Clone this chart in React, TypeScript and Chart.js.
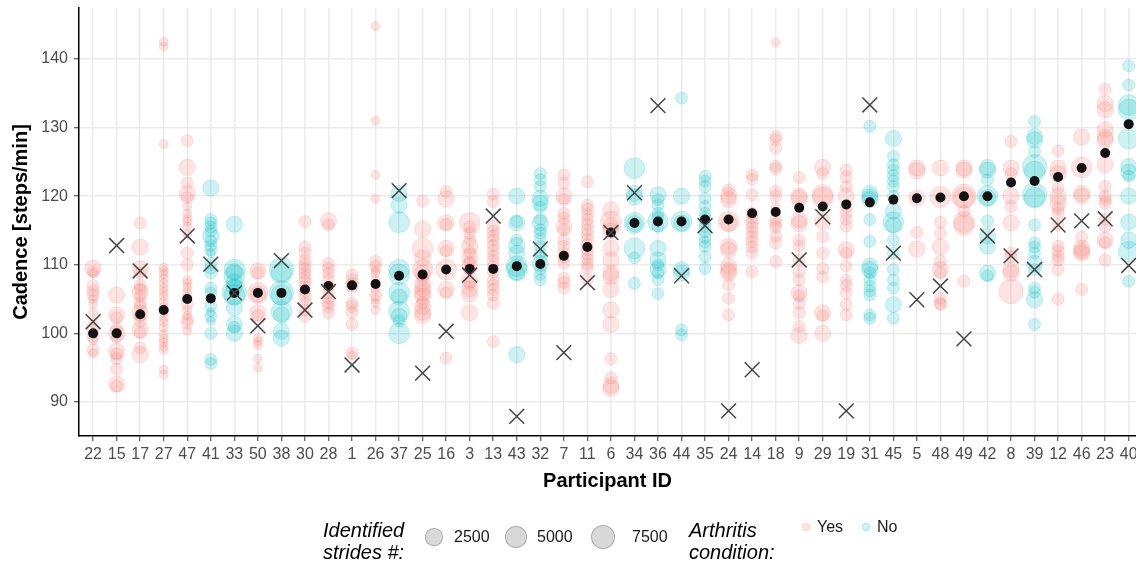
import React, { useEffect, useRef } from "react";
import { Chart, registerables } from "chart.js";

Chart.register(...registerables);

const FONT = "'Liberation Sans', Arial, Helvetica, sans-serif";

// Participants in display order (sorted by mean cadence)
const participants = [
  "22", "15", "17", "27", "47", "41", "33", "50", "38", "30", "28", "1", "26", "37", "25",
  "16", "3", "13", "43", "32", "7", "11", "6", "34", "36", "44", "35", "24", "14", "18",
  "9", "29", "19", "31", "45", "5", "48", "49", "42", "8", "39", "12", "46", "23", "40",
];

const arthritis = [
  "Yes", "Yes", "Yes", "Yes", "Yes", "No", "No", "Yes", "No", "Yes", "Yes", "Yes", "Yes", "No", "Yes",
  "Yes", "Yes", "Yes", "No", "No", "Yes", "Yes", "Yes", "No", "No", "No", "No", "Yes", "Yes", "Yes",
  "Yes", "Yes", "Yes", "No", "No", "Yes", "Yes", "Yes", "No", "Yes", "No", "Yes", "Yes", "Yes", "No",
];

// Mean cadence per participant (steps/min)
const meanCadence = [
  100, 100, 102.8, 103.4, 105, 105.1, 105.9, 105.9, 105.9, 106.4, 106.9, 107, 107.2, 108.4, 108.6,
  109.3, 109.4, 109.4, 109.8, 110.1, 111.3, 112.6, 114.7, 116.1, 116.3, 116.3, 116.6, 116.6, 117.5, 117.7,
  118.3, 118.5, 118.8, 119.1, 119.5, 119.7, 119.8, 120, 120, 122, 122.2, 122.8, 124.1, 126.3, 130.5,
];

// Reference cadence per participant (null where not available)
const referenceCadence: (number | null)[] = [
  101.7, 112.8, 109.1, null, 114.2, 110.1, 105.9, 101.1, 110.6, 103.4, 106.1, 95.4, null, 120.8, 94.2,
  100.3, 108.5, 117.1, 87.9, 112.3, 97.2, 107.4, 114.7, 120.5, 133.2, 108.4, 115.7, 88.7, 94.7, null,
  110.7, 117, 88.7, 133.3, 111.7, 104.9, 106.9, 99.2, 114.2, 111.3, 109.3, 115.8, 116.4, 116.7, 109.9,
];

// Per-session [cadence, identified strides] for each participant
const sessions: [number, number][][] = [
  [[109.5, 2000], [109, 600], [108.8, 100], [107, 600], [106.2, 600], [105.6, 600], [105, 100], [104.3, 100], [103, 100], [101.5, 100], [100.5, 600], [99.5, 600], [99, 100], [97.6, 600], [97.1, 100]],
  [[105.6, 2000], [102.7, 2000], [102.3, 600], [100.6, 600], [100, 2000], [99.5, 600], [97.4, 2000], [97, 600], [96.3, 600], [94.8, 600], [92.6, 2000], [92.3, 600]],
  [[116.1, 600], [112.6, 2000], [109.4, 2000], [108.8, 600], [107, 600], [106.5, 600], [106, 2000], [105.4, 600], [104.4, 600], [103.9, 600], [103, 2000], [102.6, 600], [101.8, 600], [100.5, 2000], [100.1, 600], [97.9, 600], [96.9, 2000]],
  [[142.5, 100], [141.8, 100], [127.6, 100], [109.6, 100], [109.1, 100], [108.6, 100], [108, 100], [107.3, 100], [106.6, 100], [106, 100], [105.4, 100], [104.6, 100], [103.9, 100], [103, 100], [102.2, 100], [101.6, 100], [100.8, 100], [99.9, 100], [99.2, 100], [98.7, 100], [98.1, 100], [97.6, 100], [94.7, 100], [94, 100]],
  [[128.1, 600], [124.2, 2000], [121.9, 600], [120.4, 2000], [119.8, 600], [118.5, 100], [117.5, 100], [116.8, 100], [116.3, 100], [115.6, 100], [114.4, 100], [111.7, 600], [110, 600], [107.8, 100], [107.3, 100], [106.7, 100], [106, 100], [105.3, 100], [104.3, 600], [103.4, 100], [102.6, 100], [102, 600], [101.5, 600], [100.4, 100]],
  [[121.2, 2000], [116.6, 600], [116.1, 600], [115.5, 600], [114.9, 600], [114.2, 2000], [113.5, 600], [112.8, 600], [112.2, 600], [111.7, 100], [110.2, 600], [109.5, 600], [108.8, 600], [106.6, 600], [105.9, 600], [104, 600], [103.1, 100], [102.5, 600], [101.8, 100], [100, 600], [96.2, 600], [95.6, 600]],
  [[115.9, 2000], [109.3, 4500], [109, 2000], [108.4, 4500], [107.5, 2000], [106.8, 2000], [106, 7000], [105.6, 4500], [103.7, 2000], [101.3, 2000], [100.9, 600], [100, 2000]],
  [[109.1, 2000], [108.8, 600], [105.9, 4500], [105.7, 2000], [103, 2000], [102.6, 600], [99.3, 100], [98.8, 100], [98.3, 100], [96.3, 100], [95, 100]],
  [[109.3, 7000], [108.8, 4500], [105.9, 7000], [105.6, 4500], [103.2, 4500], [102.7, 2000], [100.3, 2000], [99.3, 2000]],
  [[116.3, 600], [112.6, 600], [111.7, 600], [110.7, 600], [110, 600], [109.4, 600], [108.8, 600], [108.2, 600], [107.6, 600], [106.8, 600], [106.1, 600], [105.4, 600], [104.4, 600], [103.4, 600], [102.5, 600]],
  [[116.4, 2000], [115.8, 600], [110.2, 600], [109.5, 600], [108.8, 600], [107.8, 600], [106.8, 600], [105.9, 600], [105.1, 600], [104.4, 600], [103.9, 600], [103, 600]],
  [[108.5, 600], [107.8, 600], [107.2, 600], [106.8, 600], [104.4, 600], [103.9, 600], [103, 600], [101.3, 600], [97.1, 600], [96.8, 100]],
  [[144.8, 100], [131, 100], [123.1, 100], [119.6, 100], [110.5, 600], [109.8, 600], [109.2, 100], [108.8, 100], [107.8, 100], [107.2, 100], [106.4, 100], [105.6, 600], [105, 100], [104.4, 100], [103.4, 100]],
  [[120.4, 2000], [118.7, 2000], [116.2, 4500], [109.3, 4500], [108.6, 4500], [105.9, 4500], [105.3, 2000], [103.2, 4500], [102.5, 2000], [101.8, 600], [100, 4500]],
  [[119.3, 600], [115.2, 2000], [112.4, 4500], [111, 2000], [109.3, 4500], [108.8, 2000], [108, 600], [107.2, 2000], [106.5, 2000], [105.9, 2000], [105.4, 2000], [104.5, 600], [103.9, 2000], [103.1, 2000], [102.6, 2000]],
  [[120.7, 600], [119.6, 2000], [116.1, 2000], [115.9, 600], [112.4, 2000], [112, 600], [109.3, 4500], [106.4, 2000], [105.9, 600], [96.4, 600]],
  [[116.1, 4500], [115.5, 600], [114.6, 600], [113.6, 600], [112.7, 2000], [111.8, 600], [111.2, 2000], [110.4, 600], [109.8, 2000], [109.3, 600], [107.8, 2000], [107.2, 600], [106.5, 2000], [105.7, 2000], [103, 2000]],
  [[120.3, 600], [119.2, 600], [115.6, 600], [114.9, 600], [114.2, 600], [113.6, 600], [112.8, 600], [112.1, 600], [111.3, 600], [110.6, 600], [109.7, 600], [109, 600], [107.8, 600], [107.1, 600], [106.4, 600], [105.6, 600], [104.4, 600], [98.8, 600]],
  [[120, 2000], [116.1, 2000], [116.3, 600], [113.6, 600], [112.8, 2000], [111.7, 2000], [109.8, 4500], [109.3, 4500], [108.8, 2000], [96.9, 2000]],
  [[123.3, 600], [122.4, 600], [121.4, 600], [119.7, 2000], [119, 2000], [118.4, 600], [116.6, 600], [116.1, 2000], [115.1, 600], [114.6, 600], [113.8, 600], [112.7, 600], [111.7, 600], [111, 600], [110.2, 2000], [109.4, 600], [108.6, 600], [107.8, 600]],
  [[123.1, 600], [121.9, 600], [120, 2000], [119.5, 600], [117.5, 600], [116.8, 600], [115.6, 2000], [115.1, 600], [113.6, 600], [112.7, 600], [111.7, 600], [111, 600], [110.2, 600], [108, 600], [107.4, 600], [106.6, 600]],
  [[122.1, 600], [118.7, 600], [118.1, 600], [117.3, 600], [116.6, 600], [115.9, 600], [115.1, 600], [114.4, 600], [113.7, 600], [112.9, 600], [112.2, 600], [111.5, 600], [110.8, 600], [110.1, 600], [109.5, 600], [107.8, 600]],
  [[118, 2000], [116.3, 4500], [115.6, 2000], [114.9, 2000], [112.4, 2000], [110.7, 2000], [108.8, 2000], [108.3, 2000], [106.4, 2000], [103.4, 2000], [101.3, 2000], [96.3, 600], [93.5, 600], [92.4, 2000], [92, 2000]],
  [[124.1, 4500], [120.4, 2000], [119.9, 2000], [116.1, 4500], [116, 2000], [112.4, 4500], [111, 600], [107.3, 600]],
  [[120.2, 2000], [119.5, 600], [118.7, 600], [117.5, 600], [116.8, 600], [116.3, 4500], [115.6, 600], [112.4, 2000], [110.7, 2000], [110, 600], [109.3, 2000], [108.8, 600], [107.8, 600], [105.8, 600]],
  [[134.3, 600], [120, 2000], [116.3, 4500], [116.1, 2000], [109.3, 2000], [108.8, 2000], [100.5, 600], [99.8, 600]],
  [[122.9, 600], [122.2, 600], [121.4, 600], [119.7, 600], [118.5, 600], [117.5, 600], [116.9, 600], [116.2, 600], [115.6, 600], [114.8, 600], [114, 600], [113.3, 600], [112.7, 600], [111.2, 600], [109.5, 600]],
  [[120.9, 600], [120.1, 2000], [119.5, 2000], [116.3, 4500], [116.1, 2000], [112.7, 2000], [112.2, 2000], [109.8, 2000], [109.2, 2000], [108.8, 2000], [107.1, 600], [105.1, 600], [102.7, 600]],
  [[123.1, 600], [122.5, 600], [120.2, 600], [117.5, 600], [116.8, 600], [116.2, 600], [115.5, 600], [114.8, 600], [114.1, 600], [113.4, 600], [112.6, 600], [111.7, 600], [109, 600]],
  [[142.4, 100], [128.7, 600], [128.2, 600], [127, 600], [124.4, 600], [124, 600], [120.7, 600], [120, 600], [118.4, 100], [116.6, 600], [116, 600], [115.5, 600], [114.2, 600], [113.2, 600], [110.5, 600]],
  [[122.7, 600], [120, 2000], [119.7, 2000], [116.5, 2000], [116, 2000], [113.6, 600], [112.7, 600], [110.7, 600], [109, 600], [107.8, 600], [105.9, 2000], [105.5, 600], [104.4, 600], [103, 600], [101, 600], [99.7, 2000]],
  [[124.2, 2000], [123.3, 600], [120.2, 4500], [119.8, 4500], [116.3, 2000], [114.1, 600], [111.7, 600], [109.5, 600], [108.2, 600], [103, 2000], [102.6, 600], [100, 2000]],
  [[123.8, 600], [122.8, 600], [121.4, 600], [120, 2000], [118.5, 600], [117.5, 600], [116.6, 600], [115.6, 600], [112.2, 2000], [111.7, 600], [109.8, 600], [107.8, 600], [107, 600], [105.9, 600], [104.2, 600], [102.7, 600]],
  [[130.2, 600], [120.4, 2000], [119.9, 2000], [119.5, 2000], [116.6, 600], [113.4, 600], [109.8, 2000], [109.3, 2000], [108.8, 600], [107.8, 600], [106.9, 600], [106.2, 600], [105.6, 600], [102.7, 600], [102.2, 600]],
  [[128.4, 2000], [125.8, 600], [124.6, 600], [123.8, 600], [123, 600], [122.2, 600], [121.4, 600], [120, 600], [117.8, 2000], [116.2, 4500], [115.8, 2000], [113.6, 600], [111.7, 600], [109.3, 600], [107.8, 600], [106.6, 600], [104.2, 2000], [102.2, 600]],
  [[124.1, 2000], [123.7, 2000], [119.7, 2000], [114.7, 600], [112.3, 2000]],
  [[124.1, 2000], [119.9, 4500], [116.2, 600], [114.6, 600], [112.6, 2000], [110.5, 600], [109.3, 2000], [108.8, 600], [105.1, 600], [104.4, 600], [104.2, 600]],
  [[124.1, 2000], [123.8, 2000], [120, 7000], [119.8, 4500], [117.8, 600], [116.2, 4500], [115.8, 4500], [107.6, 600]],
  [[124.2, 2000], [123.8, 2000], [122.4, 600], [120, 4500], [119.8, 2000], [116.4, 600], [114.2, 2000], [112.7, 2000], [108.8, 2000], [108.4, 600]],
  [[128, 600], [124.1, 2000], [123.3, 600], [120, 2000], [118.5, 600], [116.1, 2000], [111.7, 600], [111.2, 600], [109.3, 2000], [108.8, 2000], [106.1, 7000]],
  [[130.9, 600], [128.7, 2000], [128.2, 2000], [126.5, 600], [124.3, 7000], [123.6, 4500], [120.2, 7000], [119.8, 4500], [115.8, 600], [113.2, 600], [112.6, 600], [111.7, 600], [110.2, 2000], [109.3, 600], [106.6, 600], [106, 600], [104.9, 2000], [101.3, 600]],
  [[126.6, 600], [124.1, 2000], [123.3, 2000], [121.2, 600], [120, 2000], [119, 2000], [118.2, 600], [117.5, 600], [115.8, 600], [112.7, 600], [112, 600], [111.3, 600], [110.7, 600], [109.3, 600], [105, 600]],
  [[128.6, 2000], [124.2, 4500], [120.4, 2000], [120, 2000], [114, 600], [112.4, 2000], [112, 2000], [111.7, 2000], [106.4, 600]],
  [[135.6, 600], [133.5, 2000], [132.6, 2000], [129.7, 2000], [128.6, 2000], [128.2, 2000], [124.6, 2000], [121.4, 600], [120, 600], [119.5, 600], [119, 600], [116.6, 600], [115.6, 600], [113.6, 2000], [113.2, 600], [110.7, 600]],
  [[139, 600], [136.2, 600], [133.3, 4500], [132.6, 4500], [128.4, 4500], [124.3, 2000], [123.5, 2000], [122.9, 600], [120, 2000], [116.2, 2000], [113.6, 2000], [111.9, 4500], [107.6, 600]],
];

const yTicks = [90, 100, 110, 120, 130, 140];
const strideLegend = [2500, 5000, 7500];

const YES_FILL = "rgba(248,118,109,0.2)";
const NO_FILL = "rgba(0,191,196,0.2)";

// Point radius grows with the square root of the stride count
const strideRadius = (n: number) => 3.4 + 0.104 * Math.sqrt(n);

function sessionPoints(group: string) {
  const pts: { x: number; y: number; n: number }[] = [];
  sessions.forEach((list, i) => {
    if (arthritis[i] !== group) return;
    list.forEach(([cad, n]) => pts.push({ x: i, y: cad, n }));
  });
  return pts;
}

export default function App() {
  const ref = useRef<HTMLCanvasElement>(null);

  useEffect(() => {
    if (!ref.current) return;
    const tickFont = { family: FONT, size: 16 };
    const titleFont = { family: FONT, size: 20, weight: "bold" as const };

    const chart = new Chart(ref.current, {
      type: "scatter",
      data: {
        datasets: [
          {
            label: "reference",
            data: referenceCadence
              .map((v, i) => (v === null ? null : { x: i, y: v }))
              .filter((p) => p !== null) as { x: number; y: number }[],
            pointStyle: "crossRot",
            pointRadius: 10.5,
            borderColor: "#454545",
            backgroundColor: "rgba(0,0,0,0)",
            borderWidth: 1.5,
            order: 0,
          },
          {
            label: "mean",
            data: meanCadence.map((v, i) => ({ x: i, y: v })),
            pointRadius: 5,
            backgroundColor: "#121212",
            borderColor: "#121212",
            borderWidth: 0,
            order: 1,
          },
          {
            label: "No",
            data: sessionPoints("No"),
            pointRadius: (ctx: any) => strideRadius(ctx.raw ? ctx.raw.n : 0),
            backgroundColor: NO_FILL,
            borderColor: NO_FILL,
            borderWidth: 1,
            order: 2,
          },
          {
            label: "Yes",
            data: sessionPoints("Yes"),
            pointRadius: (ctx: any) => strideRadius(ctx.raw ? ctx.raw.n : 0),
            backgroundColor: YES_FILL,
            borderColor: YES_FILL,
            borderWidth: 1,
            order: 3,
          },
        ] as any,
      },
      options: {
        animation: false,
        responsive: false,
        devicePixelRatio: 1,
        events: [],
        layout: { autoPadding: false, padding: { top: 8, left: 0, right: 0, bottom: 0 } },
        plugins: { legend: { display: false }, tooltip: { enabled: false } },
        scales: {
          x: {
            type: "linear",
            min: -0.6,
            max: 44.31,
            afterBuildTicks: (s: any) => {
              s.ticks = participants.map((_, i) => ({ value: i }));
            },
            afterFit: (s: any) => {
              s.height = 127;
              s.paddingLeft = 0;
              s.paddingRight = 0;
            },
            ticks: {
              autoSkip: false,
              maxRotation: 0,
              padding: 4,
              color: "#4d4d4d",
              font: tickFont,
              callback: (v: any) => participants[Math.round(Number(v))] ?? "",
            },
            grid: {
              color: "#ebebeb",
              lineWidth: 1.5,
              tickLength: 5,
              tickColor: "#333333",
              tickWidth: 1,
            },
            border: { display: true, color: "#000000", width: 1.5 },
            title: {
              display: true,
              text: "Participant ID",
              color: "#000000",
              font: titleFont,
              padding: { top: 0, bottom: 70 },
            },
          },
          y: {
            type: "linear",
            min: 85.04,
            max: 147.43,
            afterBuildTicks: (s: any) => {
              s.ticks = yTicks.map((v) => ({ value: v }));
            },
            afterFit: (s: any) => {
              s.width = 79;
              s.paddingTop = 0;
              s.paddingBottom = 0;
            },
            ticks: {
              padding: 6,
              color: "#4d4d4d",
              font: tickFont,
              callback: (v: any) => String(v),
            },
            grid: {
              color: "#ebebeb",
              lineWidth: 1.5,
              tickLength: 5,
              tickColor: "#333333",
              tickWidth: 1,
            },
            border: { display: true, color: "#000000", width: 1.5 },
            title: {
              display: true,
              text: "Cadence [steps/min]",
              color: "#000000",
              font: titleFont,
              padding: { top: 9, bottom: 0 },
            },
          },
        },
      },
    } as any);

    return () => chart.destroy();
  }, []);

  const legendTitle: React.CSSProperties = {
    position: "absolute",
    fontFamily: FONT,
    fontStyle: "italic",
    fontSize: 20,
    lineHeight: "22px",
    color: "#000",
    whiteSpace: "nowrap",
  };
  const legendLabel: React.CSSProperties = {
    position: "absolute",
    fontFamily: FONT,
    fontSize: 16,
    lineHeight: "18px",
    color: "#1a1a1a",
    whiteSpace: "nowrap",
  };
  const circleX = [434, 516, 603];
  const labelX = [454, 537, 632];

  return (
    <div
      style={{
        position: "absolute",
        left: 0,
        top: 0,
        width: 1136,
        height: 563,
        overflow: "hidden",
        background: "#ffffff",
      }}
    >
      <canvas ref={ref} width={1136} height={563} style={{ display: "block" }} />
      <div style={{ ...legendTitle, left: 323, top: 519 }}>
        Identified
        <br />
        strides #:
      </div>
      {strideLegend.map((n, i) => {
        const r = strideRadius(n);
        return (
          <React.Fragment key={n}>
            <div
              style={{
                position: "absolute",
                left: circleX[i] - r,
                top: 537 - r,
                width: 2 * r,
                height: 2 * r,
                borderRadius: "50%",
                boxSizing: "border-box",
                background: "rgba(0,0,0,0.15)",
                border: "1px solid rgba(0,0,0,0.22)",
              }}
            />
            <div style={{ ...legendLabel, left: labelX[i], top: 528 }}>{n}</div>
          </React.Fragment>
        );
      })}
      <div style={{ ...legendTitle, left: 689, top: 519 }}>
        Arthritis
        <br />
        condition:
      </div>
      {[
        { label: "Yes", fill: YES_FILL, x: 806 },
        { label: "No", fill: NO_FILL, x: 866 },
      ].map((item) => (
        <React.Fragment key={item.label}>
          <div
            style={{
              position: "absolute",
              left: item.x - 4.4,
              top: 527 - 4.4,
              width: 8.8,
              height: 8.8,
              borderRadius: "50%",
              background: item.fill,
              boxSizing: "border-box",
              border: `1px solid ${item.fill}`,
            }}
          />
          <div style={{ ...legendLabel, left: item.x + 11, top: 518 }}>{item.label}</div>
        </React.Fragment>
      ))}
    </div>
  );
}
